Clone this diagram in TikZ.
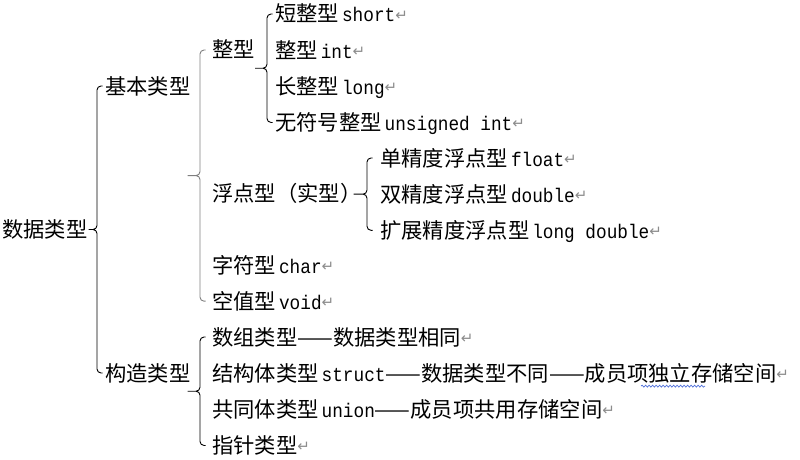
\documentclass[tikz,border=0pt]{standalone}
\usepackage{fontspec}
\setmainfont{Liberation Mono}
\newfontfamily\zhfont{Noto Sans CJK SC}
\newfontfamily\latfont[FakeStretch=0.9]{Liberation Mono}
\newfontfamily\symfont{DejaVu Sans}
\usetikzlibrary{positioning,calc,decorations.pathmorphing}

\definecolor{markgray}{HTML}{8C8C8C}
\definecolor{forkgray}{HTML}{7F7F7F}
\definecolor{spellblue}{HTML}{4F6FD9}

%% latin words inside the chinese labels, and the paragraph mark
\newcommand\code[1]{\hspace{3pt}{\latfont\fontsize{19.7}{24}\selectfont#1}}
\newcommand\ret{{\symfont\fontsize{15}{15}\selectfont\color{markgray}\raisebox{1.5pt}{↵}}}

%% brace: #1 extra style, #2 parent, #3 first child, #4 last child,
%% #5 gap to the children, #6 shift of the tick end at the parent
\newcommand\fork[6][]{%
  \draw[fork,#1] let \p1=(#3.west), \p2=(#4.west), \p3=(#2.east),
      \p4=($(#3.west)!0.5!(#4.west)$) in
    ({\x1-#5+5.5pt},\y1) -- ({\x1-#5},\y1) -- ({\x1-#5},\y4) -- ({\x3+#6},\y4)
    ({\x3+#6},\y4) -- ({\x1-#5},\y4) -- ({\x1-#5},\y2) -- ({\x1-#5+5.5pt},\y2);}

\begin{document}
\begin{tikzpicture}[
  x=1pt, y=-1pt,
  node distance=15.75pt,
  lbl/.style={anchor=west, inner sep=0pt, text height=18pt, text depth=2pt,
              font=\zhfont\fontsize{21.3}{24}\selectfont},
  fork/.style={draw=black, line width=0.9pt, rounded corners=4pt},
  spell/.style={draw=spellblue, line width=0.7pt, decorate,
                decoration={snake, amplitude=1pt, segment length=3.5pt}},
]
\useasboundingbox (0,0) rectangle (800,460);

%% ---------- first two levels ----------
\node[lbl] (root) at (2,229) {数据类型};
\node[lbl] (basic) at (105,86) {基本类型};
\node[lbl] (built) at (105,373) {构造类型};

%% basic types
\node[lbl] (int) at (212,50) {整型};
\node[lbl] (flt) at (212,193) {浮点型（实型）};
\node[lbl] (chr) at (212,265) {字符型\code{char}\ret};
\node[lbl, below=of chr.south west, anchor=north west] (void) {空值型\code{void}\ret};

%% integer types
\node[lbl] (short) at (275,14) {短整型\code{short}\ret};
\node[lbl, below=of short.south west, anchor=north west] (plain) {整型\code{int}\ret};
\node[lbl, below=of plain.south west, anchor=north west] (long) {长整型\code{long}\ret};
\node[lbl, below=of long.south west, anchor=north west] (uint) {无符号整型\code{unsigned int}\ret};

%% floating point types
\node[lbl] (single) at (380,158) {单精度浮点型\code{float}\ret};
\node[lbl, below=of single.south west, anchor=north west] (double) {双精度浮点型\code{double}\ret};
\node[lbl, below=of double.south west, anchor=north west] (ldouble) {扩展精度浮点型\code{long double}\ret};

%% constructed types
\node[lbl] (array) at (212,337) {数组类型——数据类型相同\ret};
\node[lbl, below=of array.south west, anchor=north west] (struct)
  {结构体类型\code{struct}——数据类型不同——成员项独立存储空间\ret};
\node[lbl, below=of struct.south west, anchor=north west] (union)
  {共同体类型\code{union}——成员项共用存储空间\ret};
\node[lbl, below=of union.south west, anchor=north west] (ptr) {指针类型\ret};

%% ---------- braces ----------
\fork{root}{basic}{built}{8pt}{1pt}
\fork[draw=forkgray]{basic}{int}{void}{12pt}{-3pt}
\fork{int}{short}{uint}{8pt}{0pt}
\fork{flt}{single}{ldouble}{13pt}{-8pt}
\fork{built}{array}{ptr}{12pt}{-3pt}

%% spell check mark under three characters
\draw[spell] ([shift={(429,5)}]struct.base west) -- ++(64,0);

\end{tikzpicture}
\end{document}
